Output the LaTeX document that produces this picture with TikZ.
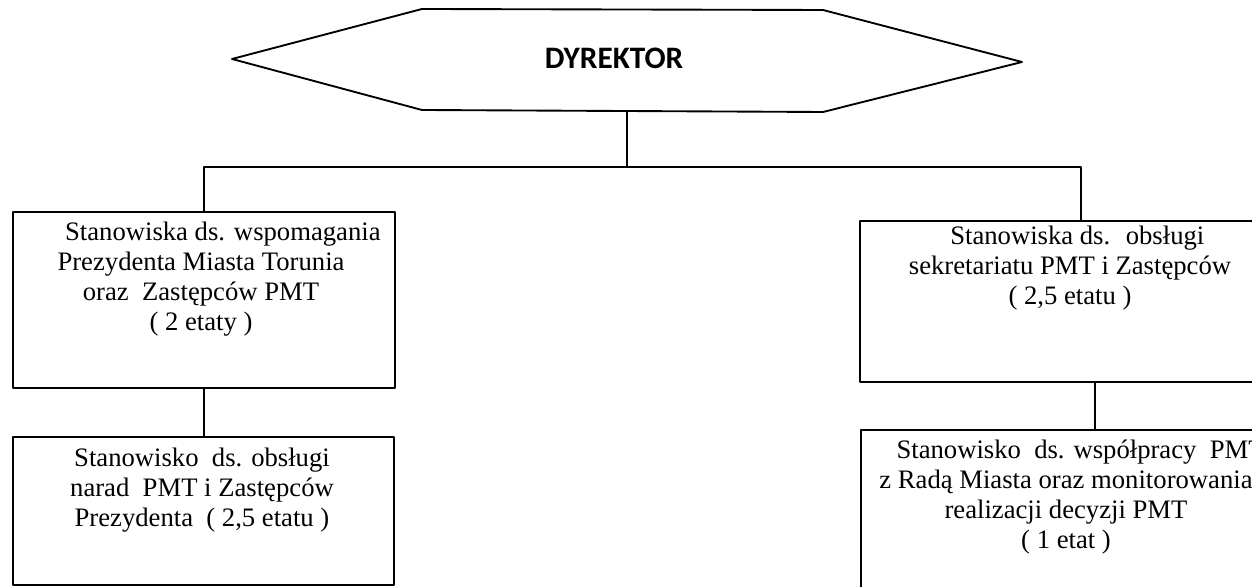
\documentclass[tikz,border=0pt]{standalone}
\usepackage{fontspec}
\setmainfont{Liberation Serif}
\newfontfamily\calibri{Carlito}
\usepackage{tikz}
\usetikzlibrary{calc}

\def\pxw{0.48pt}

\begin{document}
\begin{tikzpicture}[x=0.48pt, y=-0.48pt, line cap=round, line join=round, line width=0.9pt,
    box/.style={draw, inner sep=0pt},
    txt/.style={anchor=north, align=center, inner sep=0pt, font=\fontsize{12.8}{14.4}\selectfont}]
    \useasboundingbox (0,0) rectangle (1252,587);
    \clip (0,0) rectangle (1252,587);

    % --- director ---
    \draw (232,59) -- (422,9) -- (823,10) -- (1022,62) -- (823,112) -- (422,110) -- cycle;
    \node[font=\calibri\bfseries\fontsize{15}{18}\selectfont] (dyr) at (614,58) {DYREKTOR};
    \coordinate (dyrS) at (627,111);

    % --- left column ---
    \node[box, minimum width=382*\pxw, minimum height=176*\pxw] (wsp) at (204,300) {};
    \node[txt] (wspT) at (201,221) {\hspace*{21pt}Stanowiska ds. wspomagania\\
      Prezydenta Miasta Torunia\\ oraz~ Zastępców PMT\\ ( 2 etaty )};
    \node[box, minimum width=381*\pxw, minimum height=148*\pxw] (nar) at (203.5,511) {};
    \node[txt] (narT) at (202,447) {Stanowisko~ ds. obsługi\\
      narad~ PMT i Zastępców\\ Prezydenta~ ( 2,5 etatu )};

    % --- right column ---
    \node[box, minimum width=410*\pxw, minimum height=161*\pxw] (sek) at (1065,301.5) {};
    \node[txt] (sekT) at (1070,225) {\hspace*{7pt}Stanowiska ds.~ obsługi\\
      sekretariatu PMT i Zastępców\\ ( 2,5 etatu )};
    \node[box, minimum width=409*\pxw, minimum height=170*\pxw] (rad) at (1065.5,515) {};
    \node[txt] (radT) at (1066,439) {\hspace*{14pt}Stanowisko~ ds. współpracy~ PMT\\
      z Radą Miasta oraz monitorowania\\ realizacji decyzji PMT\\ ( 1 etat )};

    % connectors
    \coordinate (bus) at (627,167);
    \coordinate (tapR) at (1081,221);
    \coordinate (tapL) at (1095,400);
    \draw (dyrS) -- (bus);
    \draw (wsp.north) |- (bus) -| (tapR);
    \draw (wsp.south) -- (wsp.south |- nar.north);
    \draw (sek.south -| tapL) -- (tapL |- rad.north);
\end{tikzpicture}
\end{document}
